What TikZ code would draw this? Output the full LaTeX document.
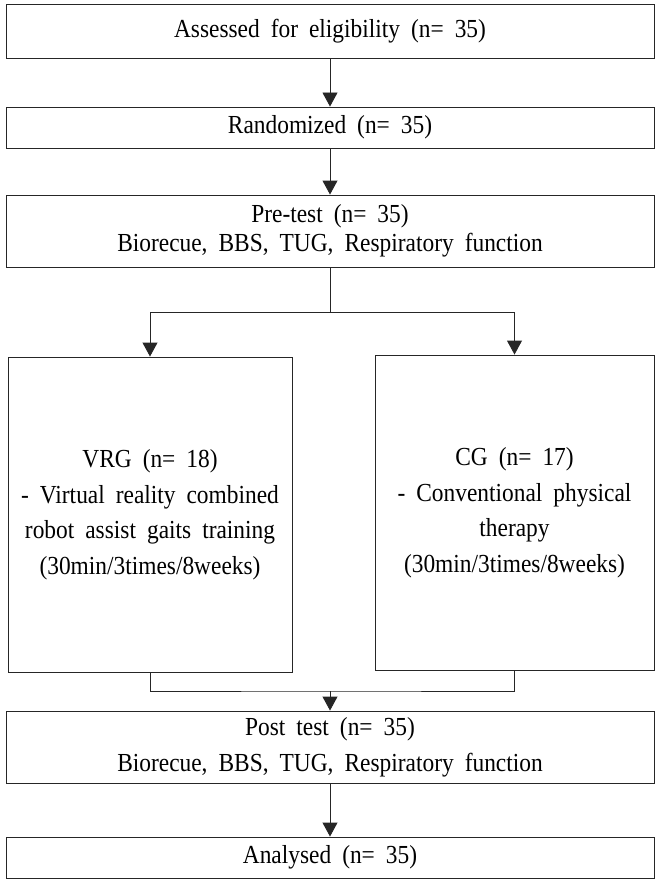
\documentclass[tikz,border=0pt]{standalone}
\usepackage{fontspec}
\setmainfont{Liberation Serif}[FakeStretch=0.9]
\usetikzlibrary{arrows.meta, positioning}
\newcommand{\flowfont}[1]{\fontsize{26}{#1}\selectfont\spaceskip 11pt\relax}

\begin{document}
\begin{tikzpicture}[
  x=1pt, y=-1pt,
  stage/.style={rectangle, draw=black!85, line width=0.9pt, minimum width=648pt, inner sep=0pt, align=center, font={\flowfont{29}}},
  group/.style={stage, minimum height=315pt, font={\flowfont{35.5}}},
  arrow/.style={-{Triangle[length=14pt, width=15pt]}, line width=0.9pt, draw=black!85},
  link/.style={line width=0.9pt, draw=black!85},
]
\useasboundingbox (0,0) rectangle (655,880);

% Nodes
\node[stage, minimum height=54pt] (assess) at (330,31) {Assessed for eligibility (n= 35)};
\node[stage, minimum height=41pt] (rand) at (330,127.5) {Randomized (n= 35)};
\node[stage, minimum height=72pt] (pre) at (330,231) {Pre-test (n= 35)\\Biorecue, BBS, TUG, Respiratory function};
\node[group, minimum width=284pt] (vrg) at (150,514.5) {VRG (n= 18)\\- Virtual reality combined\\robot assist gaits training\\(30min/3times/8weeks)};
\node[group, minimum width=279pt] (cg) at (514.5,512.5) {CG (n= 17)\\- Conventional physical\\therapy\\(30min/3times/8weeks)};
\node[stage, minimum height=72pt, font={\flowfont{36}}] (post) at (330,747) {Post test (n= 35)\\Biorecue, BBS, TUG, Respiratory function};
\node[stage, minimum height=41pt] (analysed) at (330,857.5) {Analysed (n= 35)};

\coordinate (split) at (330,312);
\coordinate (merge) at (330,691);

% Arrows
\draw[arrow] (assess) -- (rand);
\draw[arrow] (rand) -- (pre);
\draw[link] (pre) -- (split);
\draw[arrow] (split) -| (vrg);
\draw[arrow] (split) -| (cg);
\draw[link] (vrg) |- (merge) -| (cg);
\draw[arrow] (merge) -- (post);
\draw[arrow] (post) -- (analysed);

\end{tikzpicture}
\end{document}
